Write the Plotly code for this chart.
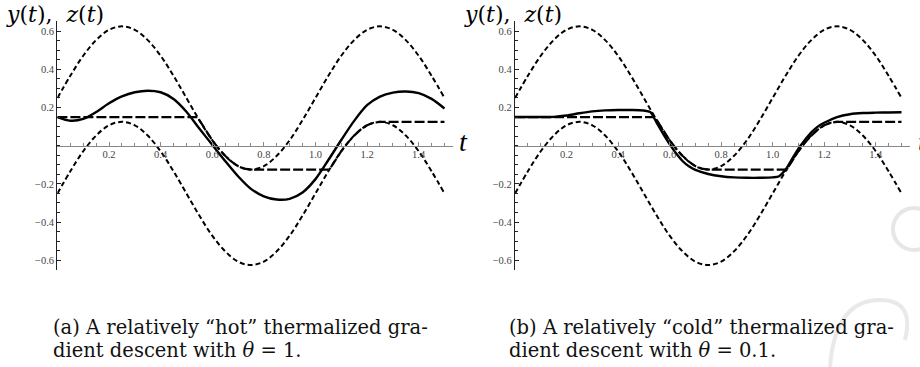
import plotly.graph_objects as go

# ---------------- data ----------------
t_grid = [0.00, 0.05, 0.10, 0.15, 0.20, 0.25, 0.30, 0.35, 0.40, 0.45,
          0.50, 0.55, 0.60, 0.65, 0.70, 0.75, 0.80, 0.85, 0.90, 0.95,
          1.00, 1.05, 1.10, 1.15, 1.20, 1.25, 1.30, 1.35, 1.40, 1.45, 1.50]

upper_bound = [0.250, 0.366, 0.471, 0.553, 0.607, 0.625, 0.607, 0.553, 0.471, 0.366,
               0.250, 0.134, 0.029, -0.053, -0.107, -0.125, -0.107, -0.053, 0.029, 0.134,
               0.250, 0.366, 0.471, 0.553, 0.607, 0.625, 0.607, 0.553, 0.471, 0.366, 0.250]

lower_bound = [-0.250, -0.134, -0.029, 0.053, 0.107, 0.125, 0.107, 0.053, -0.029, -0.134,
               -0.250, -0.366, -0.471, -0.553, -0.607, -0.625, -0.607, -0.553, -0.471, -0.366,
               -0.250, -0.134, -0.029, 0.053, 0.107, 0.125, 0.107, 0.053, -0.029, -0.134, -0.250]

# z(t): long-dashed curve (same in both panels)
t_z = [0.00, 0.543, 0.55, 0.575, 0.60, 0.625, 0.65, 0.675, 0.70, 0.725, 0.75,
       1.054, 1.075, 1.10, 1.125, 1.15, 1.175, 1.20, 1.225, 1.25, 1.50]
z_vals = [0.150, 0.150, 0.134, 0.080, 0.029, -0.015, -0.053, -0.084, -0.107, -0.120, -0.125,
          -0.125, -0.080, -0.029, 0.015, 0.053, 0.084, 0.107, 0.120, 0.125, 0.125]

# y(t) panel (a): "hot", theta = 1
y_hot = [0.150, 0.131, 0.140, 0.176, 0.222, 0.258, 0.280, 0.288, 0.280, 0.245,
         0.178, 0.090, 0.005, -0.080, -0.160, -0.226, -0.265, -0.282, -0.278, -0.245,
         -0.175, -0.075, 0.030, 0.130, 0.212, 0.257, 0.278, 0.284, 0.275, 0.245, 0.195]

# y(t) panel (b): "cold", theta = 0.1
t_cold = [0.00, 0.05, 0.10, 0.15, 0.20, 0.25, 0.30, 0.35, 0.40, 0.45, 0.50, 0.525,
          0.55, 0.575, 0.60, 0.625, 0.65, 0.675, 0.70, 0.75, 0.80, 0.85, 0.90, 0.95,
          1.00, 1.025, 1.05, 1.075, 1.10, 1.125, 1.15, 1.175, 1.20, 1.25, 1.30, 1.35,
          1.40, 1.45, 1.50]
y_cold = [0.150, 0.150, 0.150, 0.151, 0.158, 0.170, 0.180, 0.185, 0.187, 0.187, 0.184, 0.176,
          0.120, 0.062, 0.008, -0.040, -0.080, -0.108, -0.127, -0.148, -0.160, -0.166, -0.168, -0.168,
          -0.166, -0.160, -0.125, -0.070, -0.015, 0.030, 0.070, 0.100, 0.120, 0.150, 0.165, 0.171,
          0.173, 0.174, 0.175]

x_tick_vals = [0.2, 0.4, 0.6, 0.8, 1.0, 1.2, 1.4]
x_tick_text = ["0.2", "0.4", "0.6", "0.8", "1.0", "1.2", "1.4"]
y_tick_vals = [-0.6, -0.4, -0.2, 0.2, 0.4, 0.6]
y_tick_text = ["\u22120.6", "\u22120.4", "\u22120.2", "0.2", "0.4", "0.6"]
minor_x = [i * 0.05 for i in range(0, 31)]
minor_y = [-0.65 + i * 0.05 for i in range(0, 27)]

caption_a = ["(a) A relatively \u201chot\u201d thermalized gra-",
             "dient descent with <i>\u03b8</i> = 1."]
caption_b = ["(b) A relatively \u201ccold\u201d thermalized gra-",
             "dient descent with <i>\u03b8</i> = 0.1."]

# ---------------- layout geometry ----------------
W, H = 920, 367
def px(x):
    return x / W
def py(y):
    return 1 - y / H

y_dom = [py(270.4), py(21.0)]
y_mid = (y_dom[0] + y_dom[1]) / 2
x_dom_a = [px(57.4), px(453.0)]
x_dom_b = [px(515.0), px(910.0)]

fig = go.Figure()

panels = [("x", "y", y_hot, t_grid), ("x2", "y2", y_cold, t_cold)]
for xa, ya, ysol, tsol in panels:
    fig.add_trace(go.Scatter(x=t_grid, y=upper_bound, mode="lines", xaxis=xa, yaxis=ya,
                             line=dict(color="black", width=2, dash="5px,3px", shape="spline"),
                             showlegend=False, hoverinfo="skip"))
    fig.add_trace(go.Scatter(x=t_grid, y=lower_bound, mode="lines", xaxis=xa, yaxis=ya,
                             line=dict(color="black", width=2, dash="5px,3px", shape="spline"),
                             showlegend=False, hoverinfo="skip"))
    fig.add_trace(go.Scatter(x=t_z, y=z_vals, mode="lines", xaxis=xa, yaxis=ya,
                             line=dict(color="black", width=2.2, dash="10px,3px"),
                             showlegend=False, hoverinfo="skip"))
    fig.add_trace(go.Scatter(x=tsol, y=ysol, mode="lines", xaxis=xa, yaxis=ya,
                             line=dict(color="black", width=2.4, shape="spline", smoothing=0.8),
                             showlegend=False, hoverinfo="skip"))

tick_font = dict(family="Liberation Serif", size=10.5, color="#444")

def xaxis_cfg(dom):
    return dict(domain=dom, range=[0, 1.533], anchor="free", position=y_mid,
                showline=True, linecolor="#888", linewidth=1.2, showgrid=False, zeroline=False,
                tickmode="array", tickvals=x_tick_vals, ticktext=x_tick_text,
                ticks="inside", ticklen=4, tickcolor="#888", tickwidth=1,
                tickfont=tick_font, ticklabelstandoff=-2,
                minor=dict(tickvals=minor_x, ticks="inside", ticklen=2.5, tickcolor="#888", tickwidth=1))

def yaxis_cfg(anchor):
    return dict(domain=y_dom, range=[-0.653, 0.653], anchor=anchor,
                showline=True, linecolor="#222", linewidth=1.2, showgrid=False, zeroline=False,
                tickmode="array", tickvals=y_tick_vals, ticktext=y_tick_text,
                ticks="inside", ticklen=4, tickcolor="#222", tickwidth=1,
                tickfont=tick_font,
                minor=dict(tickvals=minor_y, ticks="inside", ticklen=2.5, tickcolor="#222", tickwidth=1))

annotations = []
label_font = dict(family="DejaVu Serif", size=22, color="black")
ylabel = "<i>y</i>(<i>t</i>),  <i>z</i>(<i>t</i>)"
for x0 in (4, 462):
    annotations.append(dict(x=px(x0), y=py(14), xref="paper", yref="paper", xanchor="left",
                            yanchor="middle", showarrow=False, font=label_font, text=ylabel))
t_font = dict(family="Liberation Serif", size=28, color="black")
for x0 in (457, 916):
    annotations.append(dict(x=px(x0), y=py(142), xref="paper", yref="paper", xanchor="left",
                            yanchor="middle", showarrow=False, font=t_font, text="<i>t</i>"))

cap_font = dict(family="DejaVu Serif", size=19.5, color="#111")
for x0, cap in ((51, caption_a), (507, caption_b)):
    for i, line in enumerate(cap):
        annotations.append(dict(x=px(x0), y=py(327 + 23 * i), xref="paper", yref="paper",
                                xanchor="left", yanchor="middle", showarrow=False,
                                font=cap_font, text=line))

# faint decorative watermark in the lower-right corner
shapes = [
    dict(type="circle", xref="paper", yref="paper",
         x0=px(893), x1=px(935), y0=py(250), y1=py(208),
         line=dict(color="#e6e6e6", width=4)),
    dict(type="path", xref="paper", yref="paper",
         path=f"M {px(830)} {py(367)} Q {px(835)} {py(300)} {px(880)} {py(300)} "
              f"Q {px(915)} {py(300)} {px(905)} {py(340)}",
         line=dict(color="#e9e9e9", width=4)),
]

fig.update_layout(
    width=W, height=H, margin=dict(l=0, r=0, t=0, b=0),
    paper_bgcolor="white", plot_bgcolor="white",
    xaxis=xaxis_cfg(x_dom_a), yaxis=yaxis_cfg("x"),
    xaxis2=xaxis_cfg(x_dom_b), yaxis2=yaxis_cfg("x2"),
    annotations=annotations, shapes=shapes, showlegend=False,
    hovermode=False,
)

# remove the default 8px page margin so the 920x367 figure fills the window exactly
fig.write_html("out.html", config={"displayModeBar": False, "staticPlot": True},
               post_script="document.body.style.margin='0';document.body.style.overflow='hidden';")
